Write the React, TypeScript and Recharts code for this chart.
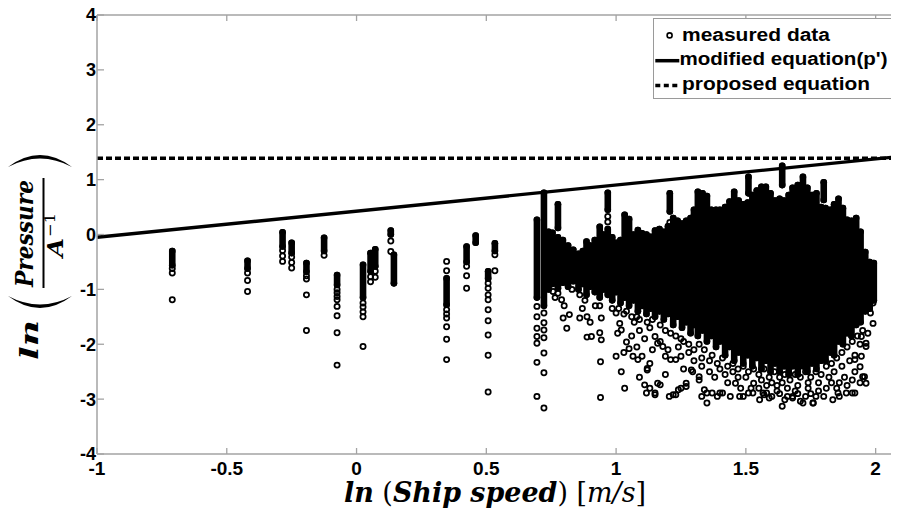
import React from 'react';
import { ComposedChart, Scatter, XAxis, YAxis, ReferenceLine, ErrorBar, Legend } from 'recharts';

const xTicks = [-1, -0.5, 0, 0.5, 1, 1.5, 2];
const yTicks = [-4, -3, -2, -1, 0, 1, 2, 3, 4];
const xDomain: [number, number] = [-1, 2.09];
const yDomain: [number, number] = [-4, 4];

// modified equation (p') : straight line across the plot
const modifiedLine = [
  { x: -1, y: -0.05 },
  { x: 2.09, y: 1.42 },
];
// proposed equation : constant level
const proposedLevel = 1.39;

// dense stacks of measured points: [x, top of stack, bottom of stack]
const sparseBands: [number, number, number][] = [
  [-0.71, -0.3, -0.56],
  [-0.42, -0.48, -0.62],
  [-0.285, 0.04, -0.22],
  [-0.25, -0.15, -0.34],
  [-0.193, -0.52, -0.68],
  [-0.125, -0.06, -0.3],
  [-0.075, -0.74, -0.92],
  [0.025, -0.55, -1.15],
  [0.054, -0.34, -0.67],
  [0.072, -0.27, -0.58],
  [0.132, 0.07, 0.0],
  [0.144, -0.37, -0.89],
  [0.347, -0.8, -1.28],
  [0.424, -0.22, -0.5],
  [0.459, -0.02, -0.15],
  [0.507, -0.67, -0.8],
  [0.533, -0.16, -0.3],
];

const cloudBands: [number, number, number][] = [
  [0.695, 0.27, -1.15],
  [0.722, 0.76, -1.3],
  [0.74, 0.05, -1.0],
  [0.755, 0.03, -0.9],
  [0.776, 0.55, 0.12],
  [0.776, -0.05, -0.98],
  [0.795, -0.1, -0.88],
  [0.815, -0.2, -0.95],
  [0.835, -0.28, -0.85],
  [0.855, -0.35, -1.0],
  [0.872, -0.3, -0.9],
  [0.886, -0.13, -1.1],
  [0.9, -0.2, -0.95],
  [0.918, -0.1, -1.05],
  [0.937, 0.14, -1.15],
  [0.952, 0.0, -1.0],
  [0.968, 0.76, 0.45],
  [0.968, 0.1, -1.1],
  [0.985, -0.05, -1.2],
  [1.0, -0.15, -1.05],
  [1.017, -0.1, -1.25],
  [1.033, 0.36, -1.15],
  [1.05, 0.28, -1.3],
  [1.067, 0.0, -1.2],
  [1.084, 0.08, -1.4],
  [1.1, 0.02, -1.3],
  [1.117, 0.0, -1.45],
  [1.133, -0.04, -1.35],
  [1.15, 0.07, -1.5],
  [1.167, 0.1, -1.4],
  [1.184, 0.05, -1.55],
  [1.207, 0.75, 0.42],
  [1.2, 0.15, -1.45],
  [1.22, 0.3, -1.65],
  [1.237, 0.25, -1.5],
  [1.254, 0.2, -1.7],
  [1.27, 0.25, -1.6],
  [1.287, 0.3, -1.8],
  [1.3, 0.45, -1.65],
  [1.315, 0.78, -1.85],
  [1.333, 0.75, -1.75],
  [1.35, 0.7, -1.95],
  [1.367, 0.45, -1.85],
  [1.385, 0.45, -2.05],
  [1.4, 0.45, -1.95],
  [1.42, 0.5, -2.2],
  [1.437, 0.6, -2.05],
  [1.455, 0.78, -2.3],
  [1.472, 0.62, -2.15],
  [1.49, 0.55, -2.35],
  [1.51, 1.05, 0.75],
  [1.507, 0.58, -2.2],
  [1.525, 0.72, -2.4],
  [1.542, 0.8, -2.25],
  [1.56, 0.87, -2.45],
  [1.577, 0.87, -2.3],
  [1.595, 0.75, -2.5],
  [1.612, 0.62, -2.35],
  [1.64, 1.25, 0.9],
  [1.63, 0.65, -2.5],
  [1.647, 0.62, -2.4],
  [1.665, 0.72, -2.55],
  [1.68, 0.85, -2.4],
  [1.7, 0.9, -2.55],
  [1.72, 1.05, -2.4],
  [1.737, 0.85, -2.5],
  [1.755, 0.72, -2.35],
  [1.772, 0.75, -2.45],
  [1.8, 0.95, 0.63],
  [1.79, 0.5, -2.3],
  [1.807, 0.48, -2.3],
  [1.825, 0.45, -2.15],
  [1.84, 0.55, -2.2],
  [1.857, 0.65, -1.95],
  [1.874, 0.48, -2.0],
  [1.89, 0.27, -1.8],
  [1.907, 0.25, -1.85],
  [1.925, 0.3, -1.65],
  [1.942, 0.05, -1.6],
  [1.96, -0.32, -1.4],
  [1.977, -0.5, -1.35],
  [1.993, -0.52, -1.2],
];

// separate measured points along the speed columns: [x, y values]
const columnRings: [number, number[]][] = [
  [-0.71, [-0.62, -0.7, -1.19]],
  [-0.42, [-0.7, -0.84, -1.04]],
  [-0.285, [-0.29, -0.39, -0.49]],
  [-0.25, [-0.41, -0.51, -0.61]],
  [-0.193, [-0.75, -0.81, -1.1, -1.75]],
  [-0.125, [-0.38]],
  [-0.075, [-1.0, -1.06, -1.13, -1.19, -1.31, -1.48, -1.79, -2.38]],
  [0.025, [-1.25, -1.32, -1.41, -1.5, -2.04]],
  [0.054, [-0.77, -0.86]],
  [0.072, [-0.67, -0.78]],
  [0.132, [-0.12, -0.31]],
  [0.347, [-0.49, -0.66, -1.37, -1.45, -1.52, -1.68, -1.91, -2.28]],
  [0.424, [-0.58, -0.75, -0.98]],
  [0.507, [-0.89, -0.98, -1.1, -1.19, -1.37, -1.57, -1.83, -2.2, -2.87]],
  [0.533, [-0.37, -0.66]],
  [0.695, [-1.31, -1.5, -1.71, -1.86, -1.98, -2.33, -2.95]],
  [0.722, [-1.43, -1.61, -1.74, -1.88, -2.16, -2.52, -3.16]],
  [0.968, [0.33, 0.23]],
  [1.207, [0.22]],
];

// scattered measured points around and below the dense cloud: [x, y]
const cloudRings: [number, number][] = [
  [0.757, -1.04], [0.765, -1.15], [0.776, -1.07], [0.79, -1.19], [0.796, -1.52], [0.8, -1.3],
  [0.81, -1.71], [0.82, -1.46], [0.83, -1.0], [0.86, -1.1], [0.86, -1.52], [0.87, -1.35],
  [0.88, -1.2], [0.888, -1.5], [0.888, -1.87], [0.9, -1.6], [0.905, -1.86], [0.92, -1.3],
  [0.937, -1.3], [0.943, -1.52], [0.937, -1.79], [0.943, -1.92], [0.94, -2.32], [0.94, -2.97],
  [0.985, -1.35], [1.0, -1.43], [1.006, -1.8], [1.014, -1.62], [1.0, -2.22], [1.02, -2.5],
  [1.033, -2.8], [1.02, -1.74], [1.04, -1.96], [1.05, -2.08], [1.03, -1.45],
  [1.065, -2.22], [1.084, -2.28], [1.1, -2.22], [1.12, -2.47], [1.11, -2.74], [1.13, -2.8],
  [1.15, -2.89], [1.16, -2.71], [1.12, -2.44], [1.117, -2.89], [1.15, -2.92], [1.17, -2.74],
  [1.07, -1.6], [1.09, -1.75], [1.11, -1.9], [1.13, -1.7], [1.08, -1.5],
  [1.15, -1.86], [1.16, -1.98], [1.18, -2.04], [1.19, -2.22], [1.21, -2.28], [1.23, -2.28],
  [1.25, -2.22], [1.205, -2.95], [1.23, -2.92], [1.25, -2.8], [1.27, -2.71], [1.29, -2.47],
  [1.22, -2.92], [1.24, -2.83], [1.27, -2.77], [1.295, -2.5], [1.32, -2.65], [1.35, -2.89],
  [1.32, -2.59], [1.34, -2.83], [1.33, -2.95],
  [1.35, -3.07], [1.37, -2.89], [1.39, -2.95], [1.41, -2.89], [1.44, -2.95], [1.46, -2.71],
  [1.49, -2.95], [1.51, -2.89], [1.53, -2.71], [1.4, -2.89], [1.476, -2.95], [1.527, -2.89],
  [1.38, -2.6], [1.42, -2.55], [1.45, -2.5], [1.5, -2.6], [1.36, -2.3], [1.3, -2.1],
  [1.28, -2.0], [1.26, -1.95], [1.33, -2.25],
  [1.553, -3.01], [1.58, -2.89], [1.6, -2.95], [1.64, -3.13], [1.65, -3.01], [1.68, -2.95],
  [1.71, -3.04], [1.73, -2.95], [1.76, -3.07], [1.8, -2.95], [1.835, -3.01], [1.566, -2.89],
  [1.59, -2.98], [1.68, -2.98], [1.72, -3.07], [1.758, -3.07], [1.86, -2.95], [1.91, -2.89],
  [1.56, -2.65], [1.6, -2.7], [1.62, -2.75], [1.66, -2.8], [1.7, -2.75], [1.74, -2.8],
  [1.78, -2.7], [1.82, -2.6], [1.84, -2.5], [1.55, -2.8], [1.63, -2.9], [1.69, -2.85],
  [1.75, -2.9], [1.78, -2.85], [1.81, -2.8], [1.86, -2.7], [1.88, -2.6], [1.87, -2.4],
  [1.9, -2.3], [1.92, -2.2], [1.94, -2.0],
  [1.855, -2.89], [1.887, -2.89], [1.92, -2.89], [1.91, -2.65], [1.945, -2.22], [1.957, -2.59],
  [1.963, -2.71], [1.94, -2.41], [1.92, -2.28], [1.99, -1.62], [1.98, -1.43], [1.99, -1.25],
  [1.97, -1.8], [1.963, -1.98], [1.945, -1.86], [1.95, -2.59], [1.963, -2.04], [1.977, -1.25],
  [1.01, -1.35], [1.04, -1.4], [1.06, -1.5], [1.09, -1.55], [1.12, -1.6], [1.14, -1.55],
  [1.17, -1.65], [1.19, -1.75], [1.21, -1.8], [1.23, -1.85], [1.25, -1.9], [1.17, -1.95],
  [1.2, -2.1], [1.24, -2.05], [1.28, -2.15], [1.3, -2.3], [1.32, -2.0], [1.34, -2.1],
  [1.14, -2.1], [1.06, -1.85], [1.03, -2.15], [1.08, -2.05], [1.13, -2.35], [1.26, -2.45],
  [1.19, -2.55], [1.09, -2.6],
  [1.37, -2.2], [1.39, -2.35], [1.41, -2.25], [1.43, -2.4], [1.45, -2.35], [1.47, -2.45],
  [1.49, -2.4], [1.51, -2.5], [1.53, -2.45], [1.55, -2.55], [1.57, -2.45], [1.59, -2.6],
  [1.61, -2.5], [1.63, -2.6], [1.65, -2.55], [1.67, -2.65], [1.69, -2.55], [1.71, -2.6],
  [1.73, -2.5], [1.75, -2.6], [1.77, -2.5], [1.79, -2.55], [1.81, -2.4], [1.83, -2.35],
  [1.85, -2.25], [1.87, -2.15], [1.89, -2.05], [1.91, -1.95], [1.93, -1.85], [1.95, -1.75],
  [1.58, -2.75], [1.64, -2.7], [1.7, -2.9], [1.66, -2.95], [1.62, -2.85], [1.52, -2.8],
  [1.47, -2.6], [1.43, -2.7], [1.48, -2.8], [1.57, -2.92], [1.74, -2.7], [1.77, -2.95],
  [1.83, -2.7], [1.85, -2.8], [1.89, -2.75], [1.92, -2.5], [1.94, -2.7], [1.4, -2.45],
  [1.36, -2.5], [1.33, -2.4],
];

const bandData = [...sparseBands, ...cloudBands].map(([x, top, bottom]) => ({
  x,
  y: top,
  spread: [top - bottom, 0],
}));

const ringData = [
  ...columnRings.flatMap(([x, ys]) => ys.map((y) => ({ x, y }))),
  ...cloudRings.map(([x, y]) => ({ x, y })),
];

const AXIS = '#a3a3a3';
const TICK_FONT = '"Liberation Sans", Arial, sans-serif';
const MATH_FONT = '"DejaVu Serif", serif';

const Ring = (props: any) => (
  <circle cx={props.cx} cy={props.cy} r={2.6} fill="none" stroke="#000" strokeWidth={1.75} />
);
const Empty = () => <g />;

const BottomTick = (props: any) => {
  const { x, y, payload } = props;
  return (
    <g>
      <line x1={x} y1={y} x2={x} y2={y - 6} stroke={AXIS} strokeWidth={1.3} />
      <text x={x} y={y + 21} textAnchor="middle" fontFamily={TICK_FONT} fontWeight="bold" fontSize={19} fill="#000">
        {payload.value}
      </text>
    </g>
  );
};

const TopTick = (props: any) => {
  const { x, y } = props;
  return <line x1={x} y1={y} x2={x} y2={y + 6} stroke={AXIS} strokeWidth={1.3} />;
};

const LeftTick = (props: any) => {
  const { x, y, payload } = props;
  return (
    <g>
      <line x1={x} y1={y} x2={x + 7} y2={y} stroke={AXIS} strokeWidth={1.3} />
      <text x={x - 1} y={y + 6.4} textAnchor="end" fontFamily={TICK_FONT} fontWeight="bold" fontSize={18} fill="#000">
        {payload.value}
      </text>
    </g>
  );
};

const legendText = { fontFamily: TICK_FONT, fontWeight: 'bold' as const, fontSize: 18, fill: '#000' };

const LegendBox = () => (
  <div
    style={{
      width: 246,
      height: 79,
      borderTop: '1px solid #9a9a9a',
      borderLeft: '1px solid #9a9a9a',
      borderBottom: '1px solid #9a9a9a',
      background: '#fff',
    }}
  >
    <svg width={246} height={79} style={{ display: 'block', overflow: 'visible' }}>
      <circle cx={15.6} cy={16.4} r={2.5} fill="none" stroke="#000" strokeWidth={1.6} />
      <text x={28} y={21.7} textLength={148} lengthAdjust="spacingAndGlyphs" {...legendText}>
        measured data
      </text>
      <line x1={1.3} y1={41.7} x2={25.3} y2={41.7} stroke="#000" strokeWidth={3.5} />
      <text x={25.5} y={46.4} textLength={208} lengthAdjust="spacingAndGlyphs" {...legendText}>
        modified equation(p')
      </text>
      <line x1={1.3} y1={66.4} x2={25.3} y2={66.4} stroke="#000" strokeWidth={3.5} strokeDasharray="5 3.5" />
      <text x={28} y={70.5} textLength={188} lengthAdjust="spacingAndGlyphs" {...legendText}>
        proposed equation
      </text>
    </svg>
  </div>
);

export default function App() {
  return (
    <div style={{ position: 'relative', width: 891, height: 500 }}>
      <style>{'html, body { overflow: hidden; }'}</style>
      <ComposedChart
        width={891}
        height={500}
        margin={{ top: 6, right: 0, bottom: 53, left: 88 }}
        style={{ display: 'block', overflow: 'visible' }}
      >
        <XAxis
          xAxisId="bottom"
          dataKey="x"
          type="number"
          domain={xDomain}
          ticks={xTicks}
          height={1}
          tickSize={0}
          tickMargin={0}
          tickLine={false}
          axisLine={{ stroke: AXIS, strokeWidth: 1.5 }}
          tick={(p: any) => <BottomTick {...p} />}
          allowDataOverflow
          interval={0}
        />
        <XAxis
          xAxisId="top"
          orientation="top"
          dataKey="x"
          type="number"
          domain={xDomain}
          ticks={xTicks}
          height={1}
          tickSize={0}
          tickMargin={0}
          tickLine={false}
          axisLine={{ stroke: AXIS, strokeWidth: 1.5 }}
          tick={(p: any) => <TopTick {...p} />}
          allowDataOverflow
          interval={0}
        />
        <YAxis
          yAxisId="left"
          type="number"
          domain={yDomain}
          ticks={yTicks}
          width={1}
          tickSize={0}
          tickMargin={0}
          tickLine={false}
          axisLine={{ stroke: AXIS, strokeWidth: 1.5 }}
          tick={(p: any) => <LeftTick {...p} />}
          allowDataOverflow
          interval={0}
        />
        <Scatter
          name="bands"
          data={bandData}
          dataKey="y"
          xAxisId="bottom"
          yAxisId="left"
          shape={Empty}
          isAnimationActive={false}
          legendType="none"
        >
          <ErrorBar
            dataKey="spread"
            direction="y"
            width={0}
            stroke="#000"
            strokeWidth={6.6}
            strokeLinecap="round"
            isAnimationActive={false}
          />
        </Scatter>
        <Scatter
          name="measured data"
          data={ringData}
          dataKey="y"
          xAxisId="bottom"
          yAxisId="left"
          shape={Ring}
          isAnimationActive={false}
        />
        <ReferenceLine
          xAxisId="bottom"
          yAxisId="left"
          segment={modifiedLine}
          stroke="#000"
          strokeWidth={3.4}
          ifOverflow="visible"
        />
        <ReferenceLine
          xAxisId="bottom"
          yAxisId="left"
          y={proposedLevel}
          stroke="#000"
          strokeWidth={3.6}
          strokeDasharray="6 3"
        />
        <Legend
          layout="vertical"
          align="center"
          verticalAlign="middle"
          content={() => <LegendBox />}
          wrapperStyle={{ position: 'absolute', top: 10, left: 645, width: 246, height: 81 }}
        />
      </ComposedChart>
      <svg
        width={891}
        height={500}
        style={{ position: 'absolute', left: 0, top: 0, pointerEvents: 'none' }}
      >
        <text x={336} y={494} textLength={302} lengthAdjust="spacingAndGlyphs" fontFamily={MATH_FONT} fontSize={27} fill="#000">
          <tspan fontWeight="bold" fontStyle="italic">ln</tspan>
          <tspan> (</tspan>
          <tspan fontWeight="bold" fontStyle="italic">Ship speed</tspan>
          <tspan>) [</tspan>
          <tspan fontStyle="italic">m/s</tspan>
          <tspan>]</tspan>
        </text>
        <g transform="translate(32,250) rotate(-90)">
          <text x={-102} y={-2} textLength={40} lengthAdjust="spacingAndGlyphs" fontFamily={MATH_FONT} fontWeight="bold" fontStyle="italic" fontSize={25} fill="#000">
            ln
          </text>
          <path d="M -38 -32 Q -62 0 -38 32 Q -55 0 -38 -32 Z" fill="#000" />
          <path d="M 91 -32 Q 115 0 91 32 Q 108 0 91 -32 Z" fill="#000" />
          <text x={-29} y={-7} textLength={107} lengthAdjust="spacingAndGlyphs" fontFamily={MATH_FONT} fontWeight="bold" fontStyle="italic" fontSize={25} fill="#000">
            Pressure
          </text>
          <line x1={-30} y1={3.5} x2={80} y2={3.5} stroke="#000" strokeWidth={2} />
          <text x={1} y={23} textLength={19} lengthAdjust="spacingAndGlyphs" fontFamily={MATH_FONT} fontWeight="bold" fontStyle="italic" fontSize={22} fill="#000">
            A
          </text>
          <text x={21} y={15} textLength={24} lengthAdjust="spacingAndGlyphs" fontFamily={MATH_FONT} fontSize={15} fill="#000">
            −1
          </text>
        </g>
      </svg>
    </div>
  );
}
